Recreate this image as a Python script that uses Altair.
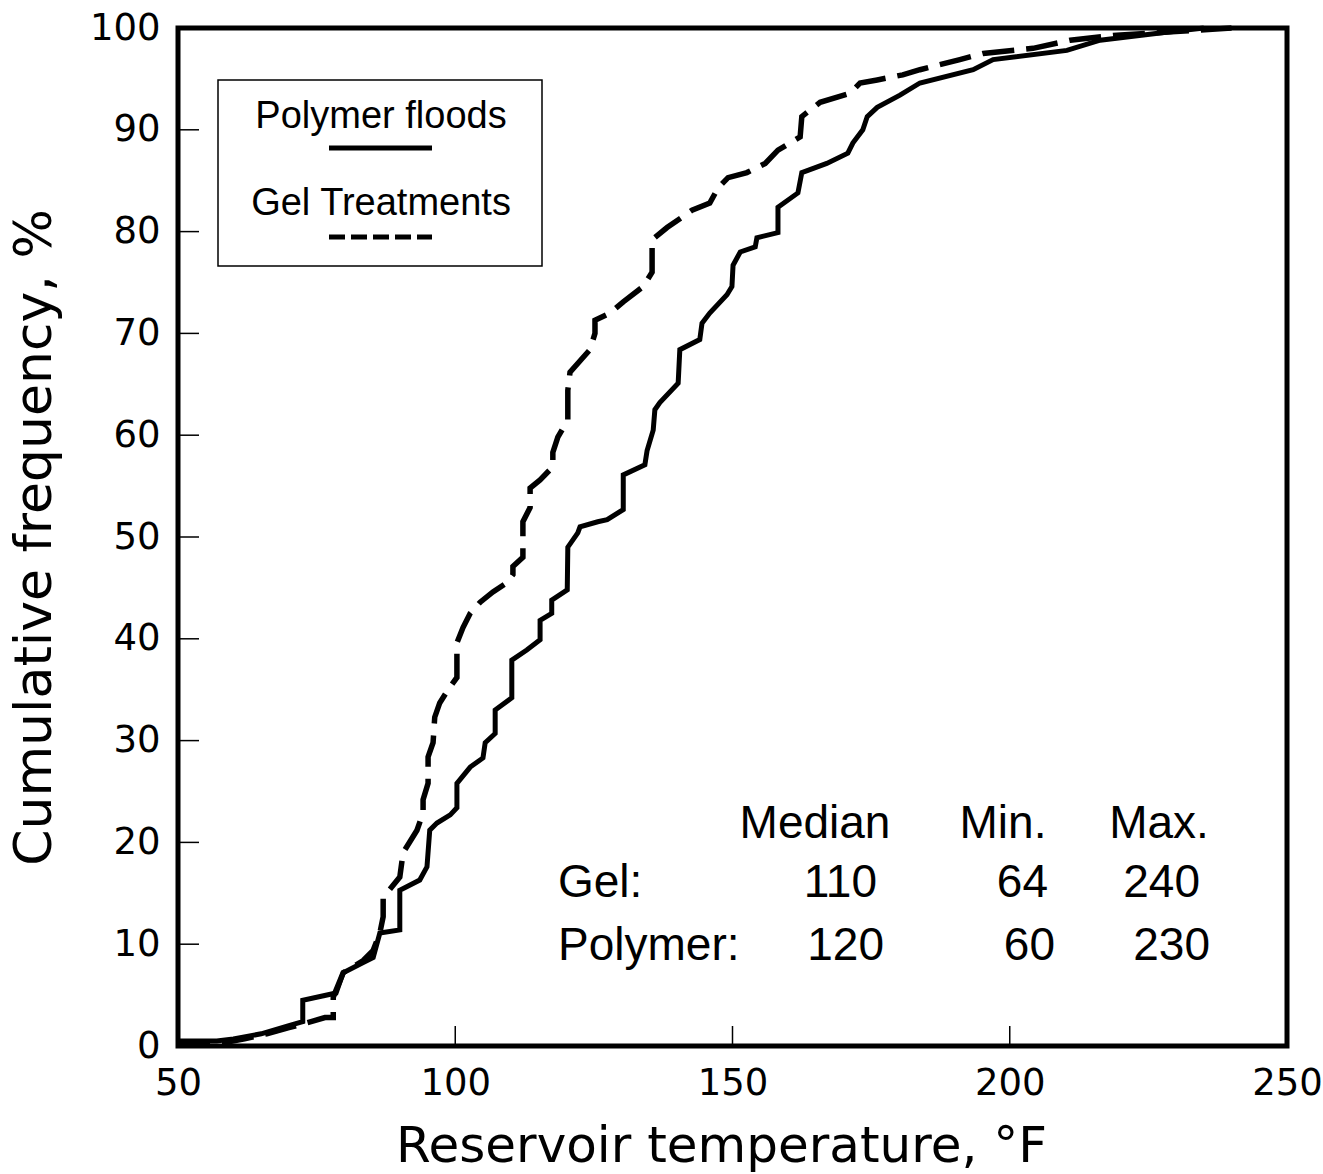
import altair as alt
import pandas as pd

# ---------------- data ----------------
poly_t = [50, 57, 60, 65, 70, 72.5, 72.5, 78.5, 79.8, 83.4, 85.2, 86.4, 90.0, 90.0, 93.6, 94.9,
          95.4, 96.7, 99.1, 100.3, 100.3, 102.7, 105.0, 105.4, 107.2, 107.2, 110.2, 110.2, 112.9,
          115.3, 115.3, 117.4, 117.4, 120.2, 120.3, 122.1, 122.5, 125.7, 127.4, 130.3, 130.3,
          134.2, 134.6, 135.7, 136.0, 136.9, 140.2, 140.5, 144.1, 144.5, 145.9, 149.0, 149.9,
          150.1, 151.4, 154.1, 154.4, 158.2, 158.2, 161.8, 162.5, 167.0, 170.8, 171.7, 173.5,
          174.3, 176.1, 180.2, 183.8, 193.4, 197.0, 210.3, 216.3, 227.1, 235.0]
poly_f = [0.5, 0.5, 0.7, 1.2, 2.0, 2.4, 4.5, 5.2, 7.2, 8.2, 8.7, 11.1, 11.4, 15.3, 16.3, 17.6,
          21.2, 21.9, 22.7, 23.4, 25.8, 27.4, 28.3, 29.8, 30.7, 33.0, 34.2, 37.9, 38.9,
          39.9, 41.8, 42.5, 43.8, 44.8, 49.0, 50.4, 51.0, 51.5, 51.7, 52.7, 56.1,
          57.1, 58.5, 60.5, 62.5, 63.2, 65.1, 68.4, 69.4, 71.0, 72.0, 73.8, 74.6,
          76.7, 78.0, 78.5, 79.4, 79.9, 82.4, 83.8, 85.8, 86.7, 87.7, 88.7, 90.0,
          91.3, 92.2, 93.4, 94.6, 95.9, 96.9, 97.8, 98.8, 99.5, 100.0]

gel_t = [50, 58, 62, 66, 70, 74, 76.5, 78.0, 78.0, 79.8, 83.4, 85.2, 86.4, 87.0, 87.0, 90.0,
         90.6, 93.1, 94.2, 94.2, 95.1, 95.1, 96.0, 96.3, 97.2, 98.7, 100.3, 100.3, 101.4,
         102.7, 104.5, 106.8, 109.3, 110.4, 110.4, 112.2, 112.2, 113.5, 113.5, 115.3, 117.6,
         117.6, 118.5, 120.3, 120.3, 120.7, 124.3, 125.2, 125.2, 127.9, 130.3, 133.9, 135.5,
         135.5, 138.2, 142.7, 145.9, 147.4, 149.2, 152.6, 155.9, 158.2, 162.2, 162.5, 165.8,
         171.2, 173.0, 176.1, 180.7, 183.8, 191.0, 195.2, 204.2, 210.9, 219.3, 228.4, 240.0]
gel_f = [0.3, 0.3, 0.7, 1.2, 1.8, 2.4, 2.8, 2.8, 4.8, 7.2, 8.4, 9.4, 11.1, 12.7, 14.6, 16.6,
         19.0, 21.2, 22.9, 24.2, 25.8, 28.4, 29.8, 32.3, 33.7, 35.0, 36.2, 39.6, 41.1,
         42.5, 43.6, 44.6, 45.5, 46.3, 47.1, 48.0, 51.5, 52.9, 54.8, 55.6, 56.9,
         58.3, 59.8, 61.5, 64.4, 66.2, 68.4, 70.0, 71.3, 72.0, 73.1, 74.6, 76.0,
         79.2, 80.4, 82.1, 82.8, 84.3, 85.3, 85.8, 86.7, 88.0, 89.3, 91.3, 92.7,
         93.6, 94.6, 94.9, 95.4, 95.9, 96.9, 97.5, 98.0, 98.8, 99.3, 99.6, 100.0]

x_ticks = [50, 100, 150, 200, 250]
y_ticks = [0, 10, 20, 30, 40, 50, 60, 70, 80, 90, 100]
x_inner_ticks = [100, 150, 200]
y_inner_ticks = [10, 20, 30, 40, 50, 60, 70, 80, 90]

legend_labels = ["Polymer floods", "Gel Treatments"]
table_cols = ["Median", "Min.", "Max."]
table_rows = ["Gel:", "Polymer:"]
gel_stats = ["110", "64", "240"]
poly_stats = ["120", "60", "230"]

# ---------------- chart ----------------
W, H = 1109, 1018
xs = alt.Scale(domain=[50, 250], nice=False, zero=False)
ys = alt.Scale(domain=[0, 100], nice=False, zero=False)

poly_df = pd.DataFrame({"t": poly_t, "f": poly_f, "i": list(range(len(poly_t)))})
gel_df = pd.DataFrame({"t": gel_t, "f": gel_f, "i": list(range(len(gel_t)))})
one = pd.DataFrame({"a": [0]})

x_axis = alt.Axis(values=x_ticks, title="Reservoir temperature, °F", ticks=False, domain=False,
                  grid=False, labelFont="DejaVu Sans", labelFontSize=37, labelPadding=19,
                  labelColor="black", titleFont="DejaVu Sans", titleFontSize=50,
                  titleFontWeight="normal", titleColor="black", titlePadding=20,
                  titleX=543, titleAnchor="middle", labelFlush=False)
y_axis = alt.Axis(values=y_ticks, title="Cumulative frequency, %", ticks=False, domain=False,
                  grid=False, labelFont="DejaVu Sans", labelFontSize=37, labelPadding=18,
                  labelColor="black", titleFont="DejaVu Sans", titleFontSize=52,
                  titleFontWeight="normal", titleColor="black", titlePadding=28,
                  labelFlush=False)

poly = alt.Chart(poly_df).mark_line(color="black", strokeWidth=5).encode(
    x=alt.X("t:Q", scale=xs, axis=x_axis),
    y=alt.Y("f:Q", scale=ys, axis=y_axis),
    order="i:Q",
)
gel = alt.Chart(gel_df).mark_line(color="black", strokeWidth=5.5, strokeDash=[32, 12]).encode(
    x=alt.X("t:Q", scale=xs),
    y=alt.Y("f:Q", scale=ys),
    order="i:Q",
)

ytk = alt.Chart(pd.DataFrame({"v": y_inner_ticks})).mark_rule(color="black", strokeWidth=1.5).encode(
    y=alt.Y("v:Q", scale=ys), x=alt.value(0), x2=alt.value(21))
xtk = alt.Chart(pd.DataFrame({"v": x_inner_ticks})).mark_rule(color="black", strokeWidth=1.5).encode(
    x=alt.X("v:Q", scale=xs), y=alt.value(H), y2=alt.value(H - 20))

layers = [ytk, xtk, poly, gel]

# legend box
layers.append(alt.Chart(one).mark_rect(fill="white", stroke="black", strokeWidth=1.5).encode(
    x=alt.value(40), x2=alt.value(364), y=alt.value(52), y2=alt.value(238)))
layers.append(alt.Chart(one).mark_rule(color="black", strokeWidth=5).encode(
    x=alt.value(151), x2=alt.value(254), y=alt.value(120)))
layers.append(alt.Chart(one).mark_rule(color="black", strokeWidth=5, strokeDash=[16, 6]).encode(
    x=alt.value(151), x2=alt.value(254), y=alt.value(209)))
for lbl, yy in zip(legend_labels, [100, 187]):
    layers.append(alt.Chart(one).mark_text(text=lbl, font="Liberation Sans", fontSize=38,
                                           align="center", baseline="alphabetic", color="black").encode(
        x=alt.value(203), y=alt.value(yy)))

# statistics table
for lbl, xx in zip(table_cols, [637, 825, 981]):
    layers.append(alt.Chart(one).mark_text(text=lbl, font="Liberation Sans", fontSize=46,
                                           align="center", baseline="alphabetic", color="black").encode(
        x=alt.value(xx), y=alt.value(810)))
row_y = [869, 932]
for lbl, yy in zip(table_rows, row_y):
    layers.append(alt.Chart(one).mark_text(text=lbl, font="Liberation Sans", fontSize=46,
                                           align="left", baseline="alphabetic", color="black").encode(
        x=alt.value(380), y=alt.value(yy)))
for vals, yy, xpos in [(gel_stats, row_y[0], [699, 870, 1022]), (poly_stats, row_y[1], [706, 877, 1032])]:
    for v, xx in zip(vals, xpos):
        layers.append(alt.Chart(one).mark_text(text=v, font="Liberation Sans", fontSize=46,
                                               align="right", baseline="alphabetic", color="black").encode(
            x=alt.value(xx), y=alt.value(yy)))

chart = alt.layer(*layers).properties(
    width=W, height=H,
    autosize=alt.AutoSizeParams(type="none"),
    padding={"left": 178, "top": 28, "right": 36, "bottom": 128},
    background="white",
).configure_view(stroke="black", strokeWidth=5)

chart.save("out.html", embed_options={"renderer": "svg", "actions": False})
